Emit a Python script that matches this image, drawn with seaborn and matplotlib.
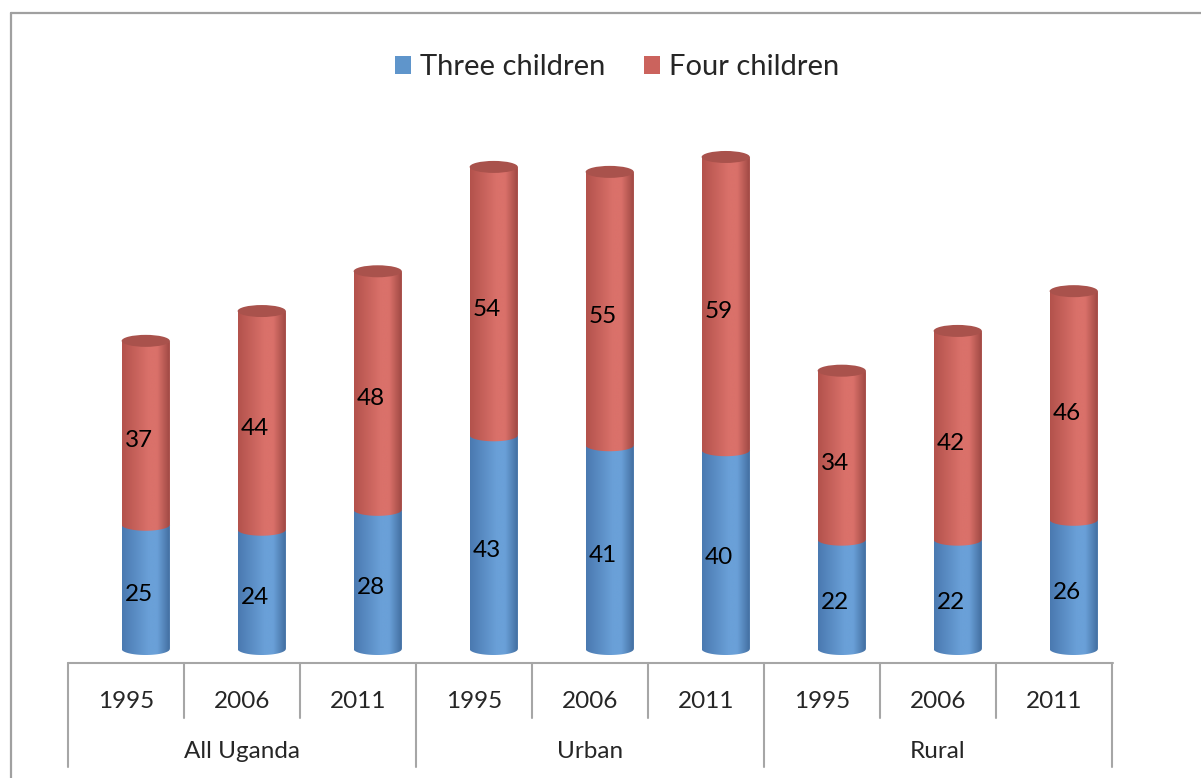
import numpy as np
import pandas as pd
import matplotlib
matplotlib.use("Agg")
import matplotlib.pyplot as plt
import matplotlib.transforms as mtrans
import seaborn as sns
from matplotlib.path import Path
from matplotlib.patches import PathPatch, Ellipse, Rectangle
from matplotlib.lines import Line2D
from matplotlib.colors import LinearSegmentedColormap

# ---------------- data ----------------
groups = ["All Uganda", "Urban", "Rural"]
years = ["1995", "2006", "2011"]
three_children = [25, 24, 28, 43, 41, 40, 22, 22, 26]
four_children = [37, 44, 48, 54, 55, 59, 34, 42, 46]
series_names = ["Three children", "Four children"]

# ---------------- style ----------------
sns.set_style("white")
plt.rcParams['font.family'] = ['Lato', 'DejaVu Sans']

BLUE = "#5f95cb"
RED = "#cb635d"
BLUE_STOPS = ["#4a79b0", "#6aa0d8", "#6aa0d8", "#3f6a9c"]
RED_STOPS = ["#b3524c", "#da716a", "#da716a", "#9a4540"]
CAP_RED = "#a9524c"
GRID_GRAY = "#a6a6a6"

W, H = 1201, 778
fig = plt.figure(figsize=(W / 100, H / 100), dpi=100)

def fx(px):
    return px / W

def fy(py):
    return 1 - py / H

ax_left, ax_right, ax_bottom, ax_top = 68, 1112, 663, 100
ax = fig.add_axes([fx(ax_left), fy(ax_bottom), (ax_right - ax_left) / W, (ax_bottom - ax_top) / H])

cats = [f"{g} {y}" for g in groups for y in years]
df = pd.DataFrame({
    "cat": cats,
    "three": three_children,
    "total": [a + b for a, b in zip(three_children, four_children)],
})

BW = 0.415
sns.barplot(data=df, x="cat", y="total", order=cats, color=RED, width=BW,
            saturation=1, ax=ax, zorder=1)
sns.barplot(data=df, x="cat", y="three", order=cats, color=BLUE, width=BW,
            saturation=1, ax=ax, zorder=1)

red_patches = ax.patches[:len(cats)]
blue_patches = ax.patches[len(cats):]

PX_PER_UNIT = 4.97
EH = 12 / PX_PER_UNIT  # ellipse height in data units

def seg_path(x0, x1, y0, y1, eh):
    xc = (x0 + x1) / 2
    a = (x1 - x0) / 2
    t = np.linspace(np.pi, 2 * np.pi, 60)
    bx = xc + a * np.cos(t)
    by = y0 + (eh / 2) * np.sin(t)
    verts = [(x0, y1)] + list(zip(bx, by)) + [(x1, y1), (x0, y1)]
    return Path(verts, closed=True)

def gradient(x0, x1, y0, y1, stops, z):
    cmap = LinearSegmentedColormap.from_list(
        "g", list(zip([0.0, 0.55, 0.72, 1.0], stops)))
    path = seg_path(x0, x1, y0, y1, EH)
    pp = PathPatch(path, transform=ax.transData, facecolor="none", edgecolor="none")
    ax.add_patch(pp)
    im = ax.imshow(np.linspace(0, 1, 256)[None, :], cmap=cmap, aspect="auto",
                   extent=[x0, x1, y0 - EH, y1 + EH], zorder=z,
                   interpolation="bilinear")
    im.set_clip_path(pp)

LABEL_FS = 17.5
lab_tr = mtrans.offset_copy(ax.transData, fig=fig, x=-7, y=-8, units="dots")

for rp, bp, v3, v4 in zip(red_patches, blue_patches, three_children, four_children):
    x0 = bp.get_x()
    x1 = x0 + bp.get_width()
    xc = (x0 + x1) / 2
    b = bp.get_height()
    t = rp.get_height()
    gradient(x0, x1, 0, b, BLUE_STOPS, 3)
    gradient(x0, x1, b, t, RED_STOPS, 4)
    ax.add_patch(Ellipse((xc, t), x1 - x0, EH, facecolor=CAP_RED,
                         edgecolor="none", zorder=5))
    ax.text(xc, b / 2, str(v3), transform=lab_tr, ha="center", va="center",
            fontsize=LABEL_FS, color="black", zorder=6)
    ax.text(xc, b + (t - b) / 2, str(v4), transform=lab_tr, ha="center",
            va="center", fontsize=LABEL_FS, color="black", zorder=6)

shift = 0.17
ax.set_xlim(-0.5 - shift, len(cats) - 0.5 - shift)
zero_px = 649
ax.set_ylim(-(ax_bottom - zero_px) / PX_PER_UNIT, (zero_px - ax_top) / PX_PER_UNIT)
ax.axis("off")

# ---------------- category table axis ----------------
def add_line(x0, y0, x1, y1):
    fig.add_artist(Line2D([fx(x0), fx(x1)], [fy(y0), fy(y1)], color=GRID_GRAY,
                          lw=1.5, transform=fig.transFigure))

step = (ax_right - ax_left) / len(cats)
add_line(ax_left, ax_bottom, ax_right + 1, ax_bottom)
for k in range(len(cats) + 1):
    xk = ax_left + k * step
    y_end = 767 if k % len(years) == 0 else 718
    add_line(xk, ax_bottom, xk, y_end)

for i, c in enumerate(cats):
    fig.text(fx(ax_left + (i + 0.5) * step), fy(701), years[i % len(years)],
             ha="center", va="center", fontsize=LABEL_FS)
for j, g in enumerate(groups):
    fig.text(fx(ax_left + (j * 3 + 1.5) * step), fy(751), g,
             ha="center", va="center", fontsize=LABEL_FS)

# ---------------- legend ----------------
handles = [Rectangle((0, 0), 1, 1, facecolor=BLUE, edgecolor="none"),
           Rectangle((0, 0), 1, 1, facecolor=RED, edgecolor="none")]
fig.legend(handles, series_names, loc="center", bbox_to_anchor=(fx(617), fy(67)),
           ncol=2, frameon=False, fontsize=21, handlelength=0.58, handleheight=0.58,
           handletextpad=0.3, columnspacing=1.3)

# ---------------- outer border ----------------
fig.add_artist(Line2D([fx(10.5), fx(10.5)], [fy(12.5), fy(H + 5)], color="#a0a0a0",
                      lw=1.6, transform=fig.transFigure))
fig.add_artist(Line2D([fx(10.5), fx(W + 5)], [fy(12.5), fy(12.5)], color="#a0a0a0",
                      lw=1.6, transform=fig.transFigure))

fig.savefig("out.png", dpi=100)
